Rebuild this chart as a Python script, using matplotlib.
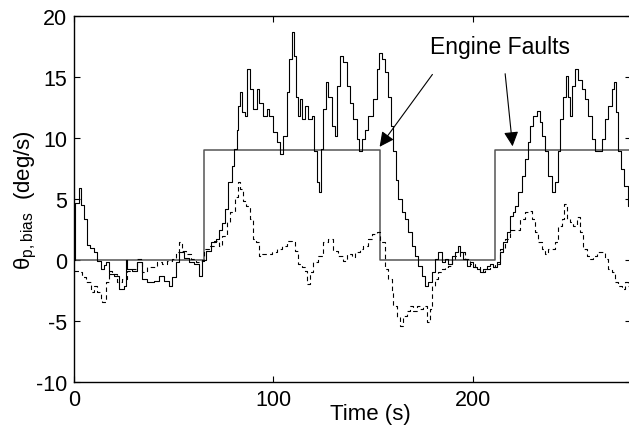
import matplotlib
matplotlib.use('Agg')
import matplotlib.pyplot as plt

plt.rcParams['font.family'] = ['Liberation Sans', 'DejaVu Sans']
plt.rcParams['mathtext.default'] = 'regular'
plt.rcParams['axes.unicode_minus'] = False

# 推定バイアス (実線)
t_est = [0, 0.5, 2.5, 3.5, 5, 6.5, 8, 10, 11.5, 13.5, 15, 16, 17.5, 20, 22.5, 25, 26, 26.5,
         29, 31.5, 34, 36.5, 40, 42.5, 45, 47.5, 49, 51, 52.5, 55, 57.5, 60, 62.5, 64, 66,
         68.5, 71, 72.5, 74, 75.5, 77, 79, 80, 81.5, 82, 83, 84, 85.7, 86.7, 88, 89.7, 91.7,
         93, 95, 96.7, 98, 99.7, 101.7, 103.3, 104.8, 106.8, 108, 109.3, 110.3, 111.3, 112.3,
         113.3, 114.3, 115.8, 117.3, 119.3, 120.3, 121.8, 122.8, 123.8, 124.8, 126.3, 127.3,
         129.3, 130.8, 131.8, 133.3, 134.8, 136.8, 138.3, 139.8, 141.8, 142.8, 144.3, 145.8,
         147.3, 150, 151.9, 152.9, 154.4, 155.9, 157.4, 158.9, 159.9, 161.4, 162.4, 164.4,
         165.9, 167.4, 169.4, 170.9, 172.4, 174.4, 175.9, 177.4, 179.4, 180.9, 182.5, 184.5,
         186, 187.5, 189.5, 191, 192.5, 193.5, 195, 197, 198.5, 200, 202, 203.5, 205, 207,
         208.5, 210, 212, 213.5, 215, 217, 218.5, 220, 221, 222.5, 224.5, 226, 227.5, 228.5,
         230, 232, 233.5, 234.5, 236, 237.5, 239.5, 241, 242.5, 243.5, 245, 246.5, 247.5,
         248.5, 249.5, 251, 252.5, 254.5, 256, 257.5, 259.5, 261, 262.5, 264.5, 266, 267.5,
         269.5, 270.5, 271.5, 272.5, 274, 275.5, 277.5, 280]
y_est = [0.0, 4.7, 5.9, 4.5, 3.4, 1.2, 1.0, 0.65, -0.1, -0.75, -0.4, -0.2, -1.15, -1.3, -2.4,
         -2.1, 0.0, -0.75, -0.9, -0.2, -1.55, -1.8, -1.7, -1.3, -1.7, -2.1, -1.4, -0.15, 0.65,
         0.2, -0.2, -0.3, -1.3, 0.0, 0.75, 1.5, 1.7, 2.5, 3.0, 4.2, 6.4, 7.7, 9.1, 10.7, 12.6,
         13.8, 12.1, 11.8, 15.7, 14.0, 12.4, 14.0, 12.9, 11.8, 12.4, 11.8, 10.5, 9.7, 8.7, 10.2,
         13.8, 16.5, 18.7, 16.7, 13.4, 11.8, 13.2, 11.6, 12.6, 11.6, 11.8, 8.9, 6.4, 5.6, 9.1,
         12.4, 14.6, 13.4, 11.0, 10.2, 14.3, 16.7, 16.2, 14.3, 12.9, 11.6, 9.9, 8.9, 9.9, 10.7,
         11.8, 13.2, 15.7, 17.0, 16.5, 15.4, 13.4, 11.0, 8.9, 6.6, 5.0, 3.9, 3.4, 2.3, 1.15,
         0.35, -0.5, -1.3, -2.1, -1.8, -1.0, 0.1, 0.65, -0.2, 0.1, -0.3, 0.35, 0.65, 1.15,
         0.65, 0.1, -0.5, -0.2, -0.6, -0.75, -1.0, -0.75, -0.5, -0.3, -0.6, -0.2, 0.65, 1.5,
         2.3, 3.6, 3.9, 4.4, 5.6, 6.9, 8.3, 9.7, 11.0, 11.8, 12.2, 11.3, 10.2, 8.9, 6.9, 5.6,
         6.4, 8.9, 11.6, 13.4, 15.1, 13.4, 11.8, 14.3, 15.7, 14.8, 14.0, 13.2, 11.8, 9.9, 8.9,
         8.9, 9.9, 11.6, 12.6, 14.0, 14.6, 12.1, 8.9, 7.5, 6.1, 4.4, 4.0]

# 破線
t_dash = [0, 1, 2.5, 4, 6, 8.4, 10, 11.7, 13.4, 14.2, 15.9, 17.5, 19.2, 21.7, 24.2, 26.7,
          29.2, 31.7, 34.3, 36.8, 39.3, 41.8, 44.3, 46.8, 49.3, 51, 52.6, 54.3, 56, 58.5, 61,
          62.6, 65, 67.7, 70.2, 72.7, 74.3, 76.5, 78, 80.7, 82.3, 83, 84.7, 86.3, 88, 89.7,
          91.4, 93, 94.2, 96.7, 99.2, 101.7, 104.3, 106.8, 109.3, 110.8, 112.3, 114.3, 115.8,
          116.8, 118.3, 119.8, 122.3, 124.8, 127.3, 129.8, 132.3, 134.8, 136.8, 139.3, 140.8,
          143.3, 144.9, 147.4, 149.4, 151.9, 153.4, 155.9, 157.4, 159.4, 160, 161.9, 163.4,
          164.9, 166.9, 168.4, 169.9, 171.9, 173.4, 175, 176.9, 178.4, 179.4, 181, 182.5,
          184.5, 186, 187.5, 189.5, 191, 193.5, 196, 198.5, 201, 203.5, 206, 208.5, 211,
          213.5, 216, 218.5, 221, 223.5, 226, 227.5, 229.6, 231, 232.6, 234.6, 236, 237.6,
          239.6, 241, 242.6, 244.6, 245.6, 247, 248.6, 250, 252, 253.6, 255, 257, 258.6, 260,
          262, 264.6, 266, 267.6, 269.6, 271, 272.6, 274.6, 276, 277.6, 280]
y_dash = [-0.9, -0.9, -1.0, -1.4, -1.8, -2.6, -2.1, -2.6, -3.2, -3.4, -1.8, -0.9, -1.15,
          -1.8, -1.55, -0.9, -0.75, 0.1, -1.0, -0.6, -0.6, -0.15, -0.3, -0.05, 0.1, 0.65, 1.5,
          0.75, 0.5, 0.1, -0.15, -0.05, 0.9, 1.15, 1.55, 1.15, 2.0, 3.1, 3.9, 5.2, 6.4, 5.8,
          4.8, 4.4, 3.4, 1.7, 1.5, 0.35, 0.5, 0.5, 0.65, 0.9, 1.15, 1.55, 1.5, 0.75, -0.3,
          -0.6, -0.9, -2.0, -1.0, -0.2, 0.35, 1.5, 1.7, 0.75, 0.35, -0.05, 0.5, 0.25, 0.65,
          0.9, 1.15, 1.7, 2.1, 2.3, 1.5, -0.75, -1.55, -2.6, -3.75, -4.7, -5.4, -4.6, -4.2,
          -3.75, -4.2, -3.8, -4.0, -3.8, -5.1, -4.0, -2.1, -1.55, -1.0, -0.75, -0.6, -0.5,
          0.1, 0.35, 0.65, 0.1, -0.3, -0.6, -1.0, -0.75, -0.6, -0.3, 0.9, 1.7, 2.5, 2.5, 3.4,
          3.9, 4.0, 3.4, 2.3, 1.5, 0.9, 0.5, 0.9, 0.9, 1.5, 2.8, 3.4, 4.6, 3.4, 3.1, 2.8, 3.5,
          2.3, 0.9, 0.35, 0.1, 0.35, 0.65, 0.65, 0.1, -0.75, -1.0, -1.8, -2.1, -2.4, -1.8,
          -2.1, -2.3]

# エンジン故障 (ステップ)
t_fault = [0, 65, 153.5, 211, 280]
y_fault = [0, 9, 0, 9, 9]

fig = plt.figure(figsize=(6.29, 4.27), dpi=100)
ax = fig.add_axes([0.1176, 0.103, 0.8855, 0.857])

ax.plot(t_fault, y_fault, color='#555555', lw=1.1, drawstyle='steps-post')
ax.plot(t_dash, y_dash, color='k', lw=0.8, ls=(0, (4, 3)), drawstyle='steps-post')
ax.plot(t_est, y_est, color='k', lw=0.8, drawstyle='steps-post')

ax.set_xlim(0, 279.2)
ax.set_ylim(-10, 20)
ax.set_xticks([0, 100, 200])
ax.set_yticks([-10, -5, 0, 5, 10, 15, 20])
ax.tick_params(direction='in', length=4, width=0.8, labelsize=15.5,
               top=True, right=True, pad=5)
for s in ax.spines.values():
    s.set_linewidth(1.0)

ax.set_xlabel('Time (s)', fontsize=16)
ax.xaxis.set_label_coords(0.532, -0.058)
ax.set_ylabel(r'θ$_{p,bias}$  (deg/s)', fontsize=16)
ax.yaxis.set_label_coords(-0.062, 0.5)

# 注釈
ax.text(178.4, 17.0, 'Engine Faults', fontsize=16.5, va='baseline', ha='left')
arr = dict(arrowstyle='-|>', color='k', lw=0.8, mutation_scale=22)
ax.annotate('', xy=(152.4, 9.1), xytext=(180.5, 15.4), arrowprops=arr)
ax.annotate('', xy=(220.0, 9.1), xytext=(216.0, 15.5), arrowprops=arr)

plt.savefig('out.png', dpi=100)
